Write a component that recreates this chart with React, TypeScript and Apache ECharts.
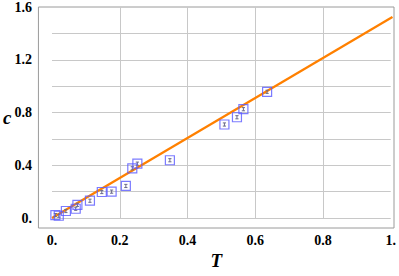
import React, { useEffect, useRef } from "react";
import * as echarts from "echarts";

const pointT = [0.01, 0.02, 0.041, 0.07, 0.075, 0.112, 0.147, 0.176, 0.218, 0.237, 0.252, 0.348, 0.509, 0.546, 0.565, 0.635];
const pointC = [0.022, 0.017, 0.053, 0.07, 0.1, 0.131, 0.197, 0.2, 0.243, 0.377, 0.412, 0.438, 0.709, 0.764, 0.825, 0.957];
const pointErr = [0.012, 0.012, 0.012, 0.012, 0.012, 0.012, 0.012, 0.012, 0.012, 0.012, 0.012, 0.012, 0.012, 0.012, 0.012, 0.012];

const lineT = [0, 1.005];
const lineC = [0, 1.525];

const xTicks = [0, 0.2, 0.4, 0.6, 0.8, 1.0];
const xTickLabels = ["0.", "0.2", "0.4", "0.6", "0.8", "1."];
const yTicks = [0, 0.4, 0.8, 1.2, 1.6];
const yTickLabels = ["0.", "0.4", "0.8", "1.2", "1.6"];

const labelFor = (ticks: number[], labels: string[]) => (v: number) => {
  const i = ticks.findIndex((t) => Math.abs(t - v) < 1e-6);
  return i >= 0 ? labels[i] : "";
};

export default function App() {
  const ref = useRef<HTMLDivElement>(null);
  useEffect(() => {
    if (!ref.current) return;
    const chart = echarts.init(ref.current, null, { renderer: "svg" });
    const gridColor = "#c8c8c8";
    const nameStyle = {
      fontFamily: "Liberation Serif",
      fontStyle: "italic",
      fontWeight: "bold",
      fontSize: 19,
      color: "#000",
    };
    const tickLabelStyle = {
      color: "#000",
      fontSize: 14,
      fontWeight: "bold",
      fontFamily: "'Liberation Serif', serif",
    };
    chart.setOption({
      animation: false,
      grid: [
        { left: 35, right: 5, top: 7, bottom: 48, show: true, borderColor: "#9a9a9a", borderWidth: 1 },
        { left: 52, right: 7, top: 7, bottom: 58 },
      ],
      xAxis: [
        {
          type: "value",
          gridIndex: 0,
          min: 0,
          max: 1,
          name: "T",
          nameLocation: "middle",
          nameGap: 23,
          nameTextStyle: nameStyle,
          axisLine: { show: false },
          axisTick: { show: false },
          axisLabel: { show: false },
          splitLine: { show: false },
        },
        {
          type: "value",
          gridIndex: 1,
          min: 0,
          max: 1,
          interval: 0.2,
          axisLine: { show: false },
          axisTick: { show: false },
          splitLine: { show: true, showMinLine: false, showMaxLine: false, lineStyle: { color: gridColor } },
          axisLabel: {
            ...tickLabelStyle,
            margin: 15,
            formatter: labelFor(xTicks, xTickLabels),
          },
        },
      ],
      yAxis: [
        {
          type: "value",
          gridIndex: 0,
          min: 0,
          max: 1,
          name: "c",
          nameLocation: "middle",
          nameRotate: 0,
          nameGap: 27,
          nameTextStyle: nameStyle,
          axisLine: { show: false },
          axisTick: { show: false },
          axisLabel: { show: false },
          splitLine: { show: false },
        },
        {
          type: "value",
          gridIndex: 1,
          min: 0,
          max: 1.6,
          interval: 0.4,
          axisLine: { show: false },
          axisTick: { show: false },
          minorTick: { show: false, splitNumber: 2 },
          minorSplitLine: { show: true, lineStyle: { color: gridColor } },
          splitLine: { show: true, showMaxLine: false, lineStyle: { color: gridColor } },
          axisLabel: {
            ...tickLabelStyle,
            margin: 20,
            formatter: labelFor(yTicks, yTickLabels),
          },
        },
      ],
      series: [
        {
          type: "line",
          xAxisIndex: 1,
          yAxisIndex: 1,
          data: lineT.map((t, i) => [t, lineC[i]]),
          showSymbol: false,
          clip: false,
          lineStyle: { color: "#ff8000", width: 2.3 },
          z: 3,
        },
        {
          type: "custom",
          xAxisIndex: 1,
          yAxisIndex: 1,
          clip: false,
          data: pointT.map((t, i) => [t, pointC[i], pointErr[i]]),
          renderItem: (params: any, api: any) => {
            const x = api.value(0);
            const y = api.value(1);
            const e = api.value(2);
            const top = api.coord([x, y + e]);
            const bot = api.coord([x, y - e]);
            const w = 1.6;
            const st = { stroke: "#6a6a8a", lineWidth: 1 };
            return {
              type: "group",
              children: [
                { type: "line", shape: { x1: top[0], y1: top[1], x2: bot[0], y2: bot[1] }, style: st },
                { type: "line", shape: { x1: top[0] - w, y1: top[1], x2: top[0] + w, y2: top[1] }, style: st },
                { type: "line", shape: { x1: bot[0] - w, y1: bot[1], x2: bot[0] + w, y2: bot[1] }, style: st },
              ],
            };
          },
          z: 4,
        },
        {
          type: "scatter",
          xAxisIndex: 1,
          yAxisIndex: 1,
          clip: false,
          data: pointT.map((t, i) => [t, pointC[i]]),
          symbol: "rect",
          symbolSize: 9,
          itemStyle: { color: "rgba(0,0,0,0)", borderColor: "#5a5aff", borderWidth: 1.2 },
          z: 5,
        },
      ],
    });
    return () => chart.dispose();
  }, []);
  return <div ref={ref} style={{ width: 399, height: 276, position: "absolute", left: 0, top: 0 }} />;
}
